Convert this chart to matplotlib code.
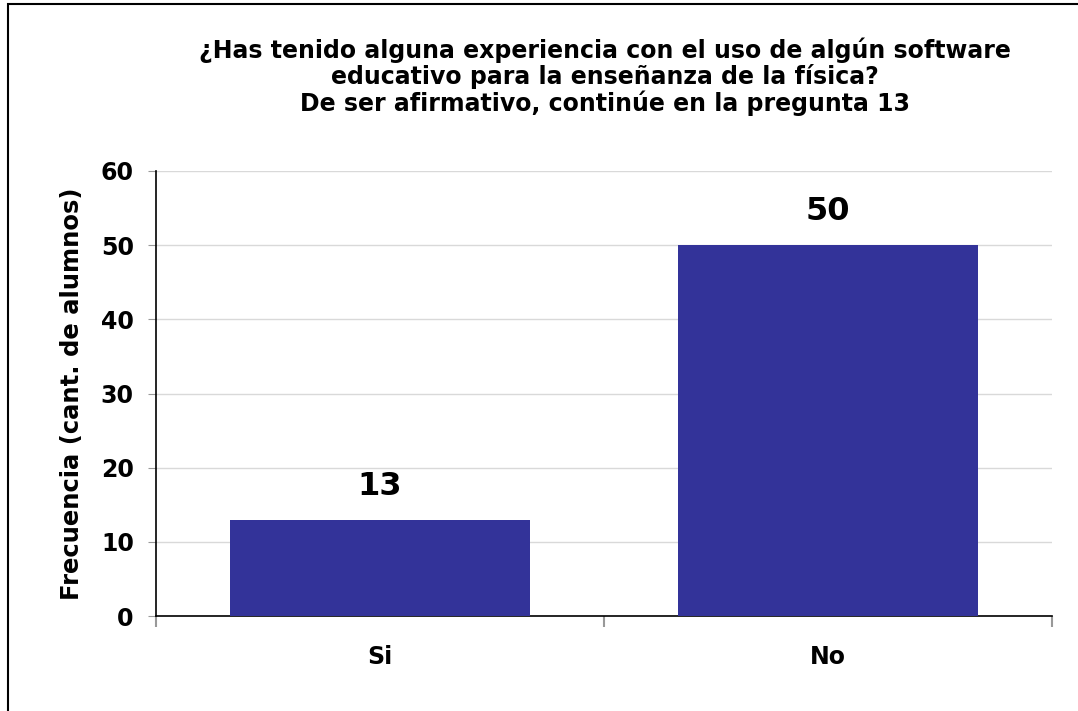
import matplotlib
matplotlib.use("Agg")
import matplotlib.pyplot as plt
import numpy as np

categories = ["Si", "No"]
counts = [13, 50]
yticks = [0, 10, 20, 30, 40, 50, 60]
title = ("¿Has tenido alguna experiencia con el uso de algún software\n"
         "educativo para la enseñanza de la física?\n"
         "De ser afirmativo, continúe en la pregunta 13")
ylabel = "Frecuencia (cant. de alumnos)"

bar_color = "#333399"
plt.rcParams["font.family"] = ["DejaVu Sans"]
plt.rcParams["font.weight"] = "bold"

fig = plt.figure(figsize=(10.78, 7.11), dpi=100)
ax = fig.add_axes([0.1447, 0.1336, 0.8312, 0.6259])

x = np.arange(len(categories)) + 0.5
bars = ax.bar(x, counts, width=0.67, color=bar_color, zorder=3)

ax.set_xlim(0, len(categories))
ax.set_ylim(0, 60)
ax.set_yticks(yticks)
ax.set_yticklabels([str(t) for t in yticks], fontsize=17, fontweight="bold")
ax.yaxis.grid(True, color="#d9d9d9", linewidth=1, zorder=0)

# category boundaries as ticks, labels in the middle
ax.set_xticks(np.arange(len(categories) + 1))
ax.set_xticklabels([])
ax.set_xticks(x, minor=True)
ax.set_xticklabels(categories, minor=True, fontsize=17, fontweight="bold")
ax.tick_params(axis="x", which="major", length=8, color="#999999", width=1.5)
ax.tick_params(axis="x", which="minor", length=0, pad=21)
ax.tick_params(axis="y", length=6, color="#999999", pad=10)

for side in ["top", "right"]:
    ax.spines[side].set_visible(False)
for side in ["left", "bottom"]:
    ax.spines[side].set_color("black")
    ax.spines[side].set_linewidth(1.2)

for b, v in zip(bars, counts):
    ax.annotate(str(v), (b.get_x() + b.get_width() / 2, v),
                xytext=(0, 13), textcoords="offset points",
                ha="center", va="bottom", fontsize=23, fontweight="bold")

ax.set_ylabel(ylabel, fontsize=17.5, fontweight="bold", labelpad=12)

fig.text(0.561, 0.892, title, ha="center", va="center", fontsize=17,
         fontweight="bold", linespacing=1.05)

# outer chart border (right and bottom edges lie outside the picture)
border = matplotlib.patches.Rectangle((0.0075, -0.05), 1.5, 1.044,
                                      transform=fig.transFigure, fill=False,
                                      edgecolor="black", linewidth=1.5)
fig.patches.append(border)

fig.savefig("out.png", dpi=100)
